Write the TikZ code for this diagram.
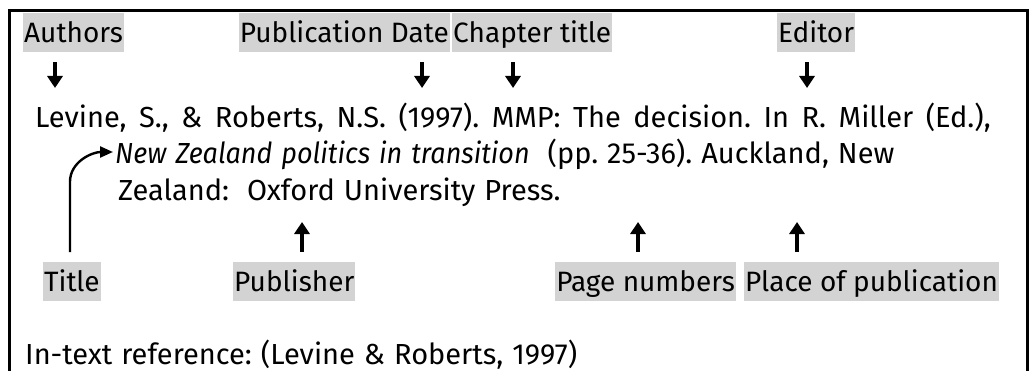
\documentclass[tikz,border=0pt]{standalone}
\usepackage{fontspec}
\setmainfont{Fira Sans}[ItalicFeatures={FakeStretch=0.93}]
\usetikzlibrary{arrows.meta,positioning,calc}
\definecolor{hlgray}{RGB}{211,211,211}
\newcommand\widespaces{\frenchspacing\spaceskip=9pt plus 2pt minus 1pt\relax}
\newcommand\widerspaces{\frenchspacing\spaceskip=12.5pt plus 2pt minus 1pt\relax}
\tikzset{
    tag/.style={fill=hlgray, anchor=north west, inner xsep=1pt, inner ysep=0pt, text height=29pt, text depth=10pt, font=\fontsize{28}{34}\selectfont},
    refline/.style={inner sep=0pt, anchor=base west, font=\fontsize{29}{35}\selectfont\widespaces},
    loosebox/.style={refline, font=\fontsize{29}{35}\selectfont\widerspaces},
    pointer/.style={-{Triangle[length=12pt, width=15pt]}, line width=3.2pt, shorten <=10pt},
    curvy/.style={-{Triangle[length=13pt, width=11pt]}, line width=2.4pt, shorten <=10pt}
}

\begin{document}
\begin{tikzpicture}[x=1pt, y=1pt]
    \useasboundingbox (0,0) rectangle (1032,370);
    % frame, open at the bottom
    \draw[line width=3pt] (9,-5) |- (1027,359) -- (1027,-5);
    % labels above
    \node[tag] (authors) at (23,357) {Authors};
    \node[tag, anchor=north east] (pubdate) at (450,357) {Publication Date};
    \node[tag, right=2pt of pubdate] (chapter) {Chapter title};
    \node[tag] (editor) at (777,357) {Editor};
    % the reference
    \node[loosebox] (line1) at (35,243) {Levine, S., \& Roberts, N.S. (1997). MMP: The decision. In R. Miller (Ed.),};
    \node[refline] (line2) at (115,207) {\textit{New Zealand politics in transition}\ \ (pp. 25-36). Auckland, New};
    \node[refline] (line3) at (118,170) {Zealand:\ \ Oxford University Press.};
    % labels below
    \node[tag] (title) at (43,108) {Title};
    \node[tag] (publisher) at (233,108) {Publisher};
    \node[tag, anchor=north east] (pages) at (736,108) {Page numbers};
    \node[tag, right=8pt of pages] (place) {Place of publication};
    \node[refline] (intext) at (25,6) {In-text reference: (Levine \& Roberts, 1997)};
    % arrow tips
    \coordinate (authors-tip) at (55,282);
    \coordinate (pubdate-tip) at (422,282);
    \coordinate (chapter-tip) at (513,282);
    \coordinate (editor-tip) at (807,282);
    \coordinate (title-tip) at (113,218);
    \coordinate (publisher-tip) at (302,148);
    \coordinate (pages-tip) at (638,148);
    \coordinate (place-tip) at (797,148);
    \draw[pointer] (authors.south -| authors-tip) -- (authors-tip);
    \draw[pointer] (pubdate.south -| pubdate-tip) -- (pubdate-tip);
    \draw[pointer] (chapter.south -| chapter-tip) -- (chapter-tip);
    \draw[pointer] (editor.south -| editor-tip) -- (editor-tip);
    \draw[pointer] (publisher.north -| publisher-tip) -- (publisher-tip);
    \draw[pointer] (pages.north -| pages-tip) -- (pages-tip);
    \draw[pointer] (place.north -| place-tip) -- (place-tip);
    \draw[curvy] ([xshift=-2pt]title.north) -- ++(0,80) to[out=90, in=180] (title-tip);
\end{tikzpicture}
\end{document}
